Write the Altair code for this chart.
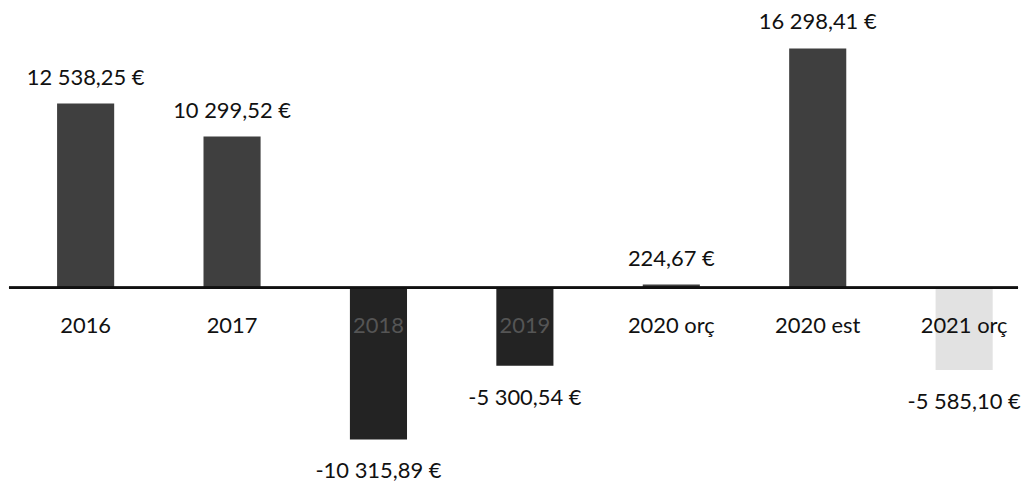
import altair as alt
import pandas as pd

categories = ["2016", "2017", "2018", "2019", "2020 orç", "2020 est", "2021 orç"]
values = [12538.25, 10299.52, -10315.89, -5300.54, 224.67, 16298.41, -5585.10]
value_labels = ["12 538,25 €", "10 299,52 €", "-10 315,89 €", "-5 300,54 €",
                "224,67 €", "16 298,41 €", "-5 585,10 €"]

df = pd.DataFrame({"cat": categories, "v": values, "lbl": value_labels})
df["zero"] = 0.0

W, H = 1013, 467
FONT = "Lato"
FS = 22

x = alt.X("cat:N", sort=categories, axis=None,
          scale=alt.Scale(paddingInner=0.61, paddingOuter=0.2507, align=0.655))
y = alt.Y("v:Q", axis=None, scale=alt.Scale(domain=[-12678, 18983], nice=False, zero=True))
y0 = alt.Y("zero:Q", axis=None)

bar_color = alt.Color(
    "cat:N", legend=None,
    scale=alt.Scale(domain=categories,
                    range=["#3f3f3f", "#3f3f3f", "#232323", "#232323", "#3f3f3f", "#3f3f3f", "#e2e2e2"]),
)

base = alt.Chart(df)

bars = base.mark_bar().encode(x=x, y=y, y2="zero:Q", color=bar_color)

pos_labels = base.transform_filter("datum.v >= 0").mark_text(
    font=FONT, fontSize=FS, baseline="middle", dy=-26, color="#111"
).encode(x=x, y=y, text="lbl:N")

neg_labels = base.transform_filter("datum.v < 0").mark_text(
    font=FONT, fontSize=FS, baseline="middle", dy=32, color="#111"
).encode(x=x, y=y, text="lbl:N")

cat_labels_dark = base.transform_filter(
    "datum.cat != '2018' && datum.cat != '2019'"
).mark_text(font=FONT, fontSize=FS, baseline="middle", dy=38, color="#111").encode(
    x=x, y=y0, text="cat:N"
)

cat_labels_inside = base.transform_filter(
    "datum.cat == '2018' || datum.cat == '2019'"
).mark_text(font=FONT, fontSize=FS, baseline="middle", dy=38, color="#555555").encode(
    x=x, y=y0, text="cat:N"
)

axis_line = base.mark_rule(color="#111", strokeWidth=2).encode(y=y0)

chart = alt.layer(
    bars, axis_line, pos_labels, neg_labels, cat_labels_dark, cat_labels_inside
).properties(
    width=W, height=H, padding=0, background="white"
).configure_view(stroke=None)

chart.save("out.html", embed_options={"renderer": "svg", "actions": False})
